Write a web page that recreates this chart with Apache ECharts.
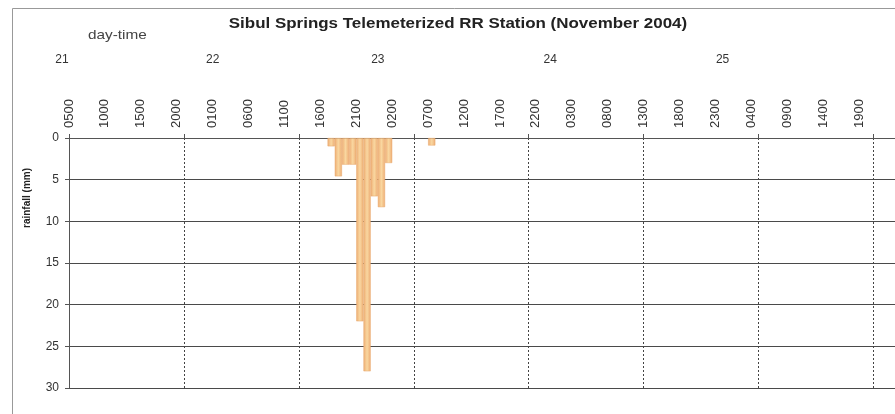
<!DOCTYPE html>
<html>
<head>
<meta charset="utf-8">
<title>Sibul Springs Telemeterized RR Station (November 2004)</title>
<script src="https://cdn.jsdelivr.net/npm/echarts@6/dist/echarts.min.js"></script>
<style>
  html, body { margin: 0; padding: 0; background: #ffffff; }
  #chart { width: 895px; height: 414px; }
</style>
</head>
<body>
<div id="chart"></div>
<script>
// Hourly time line: hour 0 is 05:00 on 21 November 2004, the last tick is 00:00 on 26 November.
const startDay = 21;
const startHour = 5;
const hourCount = 115;

// Labels printed on the hour axis, one every five hours.
const hourTickLabels = [
  '0500', '1000', '1500', '2000', '0100', '0600', '1100', '1600', '2100', '0200', '0700', '1200',
  '1700', '2200', '0300', '0800', '1300', '1800', '2300', '0400', '0900', '1400', '1900'
];

// Day numbers and the hour (counted from the start) they are printed over.
const dayLabels = ['21', '22', '23', '24', '25'];
const dayLabelHours = [0, 20, 43, 67, 91];

// Hourly rainfall (mm); each entry is the hour the reading starts.
const rainHours = [
  '22 1700', '22 1800', '22 1900', '22 2000', '22 2100', '22 2200', '22 2300',
  '23 0000', '23 0100', '23 0700'
];
const rainMm = [1.0, 4.6, 3.2, 3.2, 22.0, 28.0, 7.0, 8.3, 3.0, 0.9];

// Rainfall axis ticks.
const rainTicks = [0, 5, 10, 15, 20, 25, 30];

// Category names "DD HHMM" for every hour on the time line.
function stamp(h) {
  const t = startHour + h;
  const day = startDay + Math.floor(t / 24);
  const hr = t % 24;
  return day + ' ' + String(hr).padStart(2, '0') + '00';
}
const tickCategories = [];
for (let h = 0; h <= hourCount; h++) tickCategories.push(stamp(h));
const barCategories = tickCategories.slice(0, hourCount);

// One value per hourly band, left empty where no rain was logged.
const barValues = barCategories.map(c => {
  const k = rainHours.indexOf(c);
  return k >= 0 ? rainMm[k] : '-';
});

const FONT = 'Liberation Sans, Arial, sans-serif';
const chart = echarts.init(document.getElementById('chart'), null, { renderer: 'canvas' });

const barFill = {
  type: 'linear', x: 0, y: 0, x2: 1, y2: 0,
  colorStops: [
    { offset: 0, color: '#eead74' },
    { offset: 0.5, color: '#f9d7a0' },
    { offset: 1, color: '#eead74' }
  ]
};

chart.setOption({
  animation: false,
  backgroundColor: '#ffffff',
  textStyle: { fontFamily: FONT },
  grid: { left: 69, right: 0, top: 138, bottom: 26, containLabel: false },
  xAxis: [
    {
      // hour ticks, labels and the dashed grid every 16 hours
      type: 'category',
      data: tickCategories,
      boundaryGap: false,
      position: 'top',
      axisLine: { show: true, lineStyle: { color: '#555555', width: 1 } },
      axisTick: { show: true, interval: 15, length: 4, lineStyle: { color: '#555555' } },
      axisLabel: {
        interval: 4,
        rotate: 90,
        margin: 10,
        fontSize: 13,
        color: '#333333',
        formatter: (v, i) => hourTickLabels[i / 5]
      },
      splitLine: {
        show: true,
        interval: 15,
        lineStyle: { color: '#444444', width: 1, type: [2, 2] }
      }
    },
    {
      // hourly bands carrying the bars
      type: 'category',
      data: barCategories,
      boundaryGap: true,
      position: 'top',
      show: false
    },
    {
      // day numbers
      type: 'value',
      min: 0,
      max: hourCount,
      position: 'top',
      offset: 70,
      axisLine: { show: false },
      axisTick: { show: false },
      splitLine: { show: false },
      axisLabel: {
        customValues: dayLabelHours,
        margin: 2,
        fontSize: 12,
        color: '#333333',
        formatter: v => {
          const k = dayLabelHours.indexOf(v);
          return k === 0 ? '{first|' + dayLabels[k] + '}' : dayLabels[k];
        },
        rich: { first: { fontSize: 12, color: '#333333', padding: [0, 14, 0, 0] } }
      }
    }
  ],
  yAxis: {
    type: 'value',
    inverse: true,
    min: rainTicks[0],
    max: rainTicks[rainTicks.length - 1],
    interval: rainTicks[1] - rainTicks[0],
    axisLine: { show: true, lineStyle: { color: '#555555', width: 1 } },
    axisTick: { show: true, length: 4, lineStyle: { color: '#555555' } },
    axisLabel: { fontSize: 12, color: '#333333', margin: 10 },
    splitLine: { show: true, lineStyle: { color: '#4a4a4a', width: 1 } }
  },
  series: [{
    type: 'bar',
    name: 'rainfall',
    xAxisIndex: 1,
    yAxisIndex: 0,
    data: barValues,
    barCategoryGap: '0%',
    itemStyle: { color: barFill, borderColor: '#e9a86c', borderWidth: 0.5 }
  }],
  graphic: [
    {
      type: 'rect',
      silent: true,
      shape: { x: 12.5, y: 8.5, width: 900, height: 420 },
      style: { fill: 'none', stroke: '#999999', lineWidth: 1 }
    },
    {
      // chart title
      type: 'text',
      silent: true,
      x: 458, y: 24,
      scaleX: 1.13,
      style: {
        text: 'Sibul Springs Telemeterized RR Station (November 2004)',
        fontSize: 15, fontWeight: 'bold', fill: '#222222', fontFamily: FONT,
        textAlign: 'center', textVerticalAlign: 'middle'
      }
    },
    {
      type: 'text',
      silent: true,
      x: 88, y: 35,
      scaleX: 1.18,
      style: {
        text: 'day-time', fontSize: 13, fill: '#444444', fontFamily: FONT,
        textVerticalAlign: 'middle'
      }
    },
    {
      type: 'text',
      silent: true,
      x: 27, y: 198,
      rotation: Math.PI / 2,
      style: {
        text: 'rainfall (mm)', fontSize: 10, fontWeight: 'bold', fill: '#222222', fontFamily: FONT,
        textAlign: 'center', textVerticalAlign: 'middle'
      }
    }
  ]
});
</script>
</body>
</html>
